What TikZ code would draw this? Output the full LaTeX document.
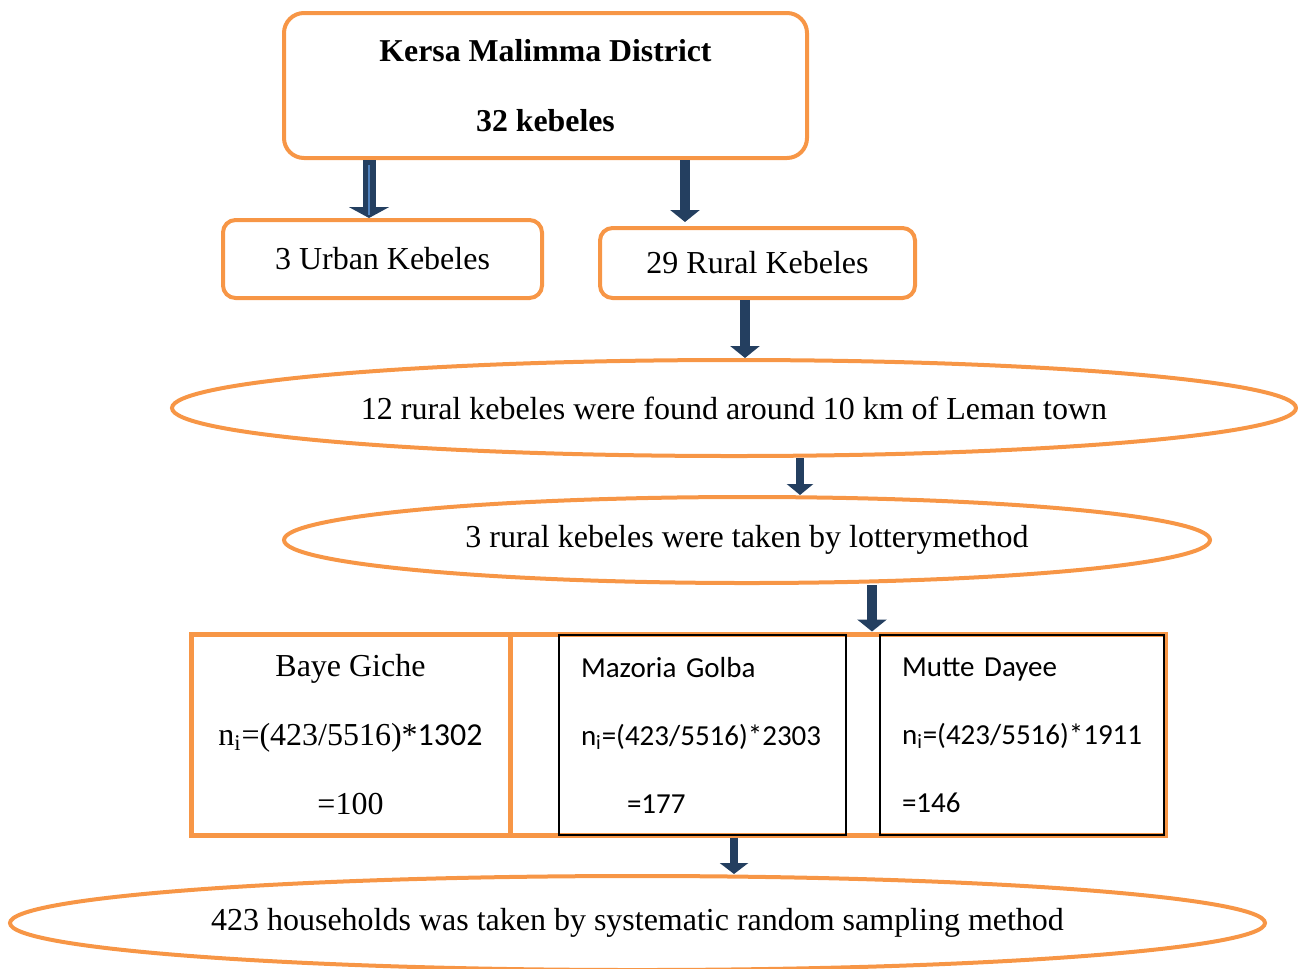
\documentclass[tikz,border=0pt]{standalone}
\usepackage{fontspec}
\setmainfont{Liberation Serif}
\newfontfamily\calib{Carlito}
\usetikzlibrary{shapes.geometric,arrows.meta}
\definecolor{boxorange}{HTML}{F79646}
\definecolor{arrowblue}{HTML}{243F60}
\definecolor{glintblue}{HTML}{4F81BD}

\begin{document}
\begin{tikzpicture}[
    box/.style={draw=boxorange,line width=0.08cm,inner sep=0pt},
    oval/.style={ellipse,draw=boxorange,line width=0.08cm,inner sep=0pt},
    cell/.style={draw=black,line width=0.03cm,inner sep=0pt},
    tnr/.style={font=\fontsize{18.2}{39.3}\selectfont},
    tnrbold/.style={font=\fontsize{18.1}{39.8}\selectfont\bfseries},
    cal/.style={font=\calib\fontsize{16.5}{38.7}\selectfont},
    barrow/.style={arrowblue,line width=0.2cm,-{Triangle[width=0.58cm,length=0.24cm]}}
  ]
  \useasboundingbox (0,0) rectangle (25.96,-19.36);
  \draw
    (10.91,-1.71) node[box,rounded corners=0.4cm,minimum width=10.46cm,minimum height=2.9cm,tnrbold,align=center] (district){Kersa Malimma District\\32 kebeles}
    (7.65,-5.18) node[box,rounded corners=0.25cm,minimum width=6.38cm,minimum height=1.56cm,tnr] (urban){3 Urban Kebeles}
    (15.15,-5.26) node[box,rounded corners=0.25cm,minimum width=6.3cm,minimum height=1.4cm,tnr] (rural){29 Rural Kebeles}
    (14.68,-8.16) node[oval,minimum width=22.48cm,minimum height=1.92cm,tnr] (found){12 rural kebeles were found around 10 km of Leman town}
    (14.94,-10.8) node[oval,minimum width=18.52cm,minimum height=1.72cm,tnr] (lottery){3 rural kebeles were taken by lotterymethod}
    (13.56,-14.69) node[box,line width=0.1cm,minimum width=19.48cm,minimum height=4.02cm] (frame){}
    (7.01,-14.69) node[box,line width=0.1cm,minimum width=6.38cm,minimum height=4.02cm,tnr,align=center] (baye){Baye Giche\\n\textsubscript{i}=(423/5516)*{\calib 1302}\\=100}
    (14.05,-14.7) node[cell,minimum width=5.74cm,minimum height=4.0cm,cal,text width=4.86cm,align=left] (mazoria){Mazoria Golba\\n\textsubscript{i}=(423/5516)*2303\\\hspace*{0.92cm}=177}
    (20.44,-14.7) node[cell,minimum width=5.68cm,minimum height=4.0cm,cal,text width=4.8cm,align=left] (mutte){Mutte Dayee\\n\textsubscript{i}=(423/5516)*1911\\=146}
    (12.75,-18.46) node[oval,minimum width=25.1cm,minimum height=1.88cm,tnr] (households){423 households was taken by systematic random sampling method};
  \coordinate (c1) at (7.38,0);
  \coordinate (c2) at (13.7,-4.44);
  \coordinate (c3) at (14.9,0);
  \coordinate (c4) at (16.0,0);
  \coordinate (c5) at (17.44,0);
  \coordinate (c6) at (14.68,0);
  \begin{scope}[barrow]
    \draw[line width=0.26cm,-{Triangle[width=0.8cm,length=0.22cm]}] (district.south -| c1) to (urban.north -| c1);
    \draw (district.south -| c2) to (c2);
    \draw (rural.south -| c3) to (found.north -| c3);
    \draw[line width=0.17cm,-{Triangle[width=0.52cm,length=0.22cm]}] (found.south -| c4) to (lottery.north -| c4);
    \draw (lottery.south -| c5) to (frame.north -| c5);
    \draw[line width=0.17cm,-{Triangle[width=0.56cm,length=0.22cm]}] (frame.south -| c6) to (households.north -| c6);
  \end{scope}
  \draw[glintblue,line width=0.05cm] (district.south -| c1) ++(0,-0.1) -- ++(0,-1.0);
\end{tikzpicture}
\end{document}
